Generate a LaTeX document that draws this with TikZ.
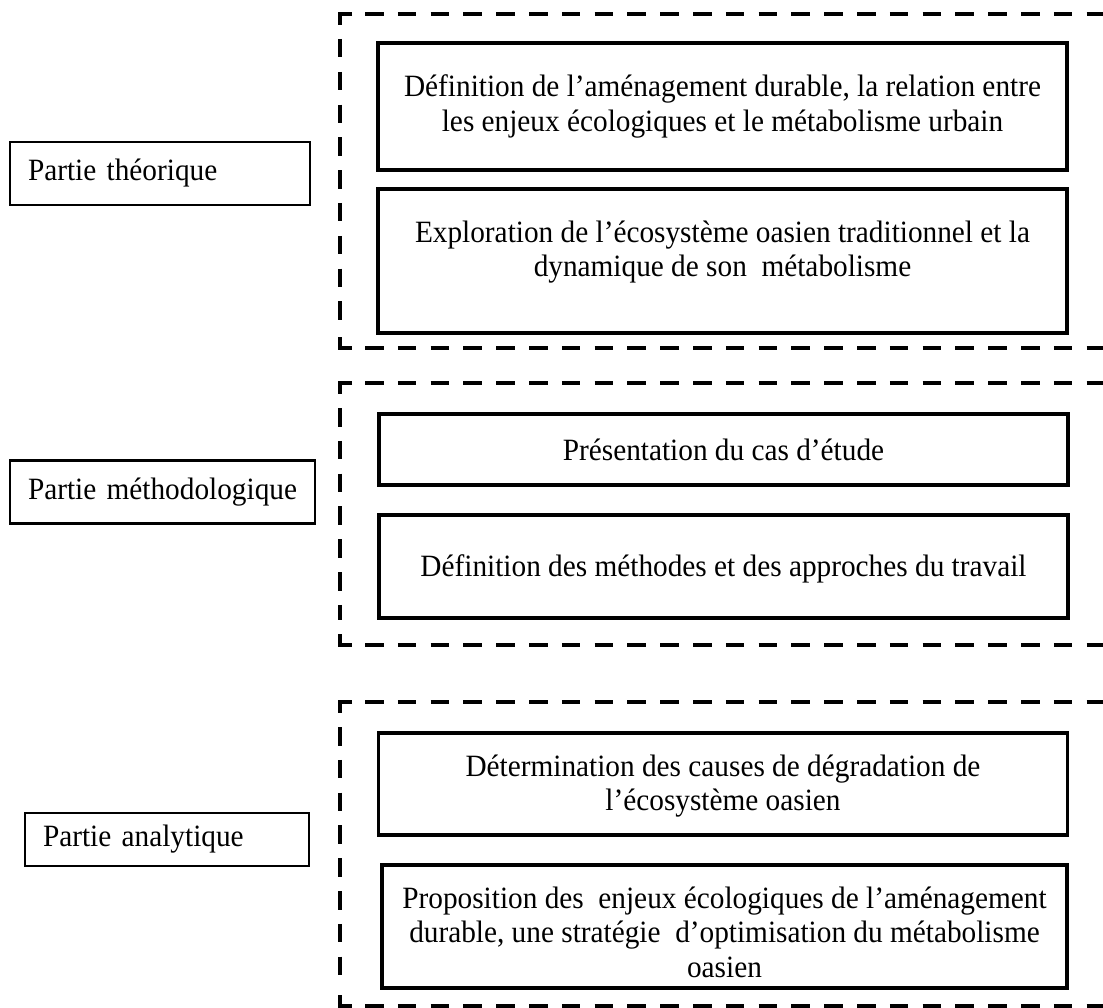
\documentclass[tikz,border=0pt]{standalone}
\usepackage{fontspec}
\setmainfont{Liberation Serif}
% slightly condensed face for the box texts
\newfontfamily\boxfont{Liberation Serif}[FakeStretch=0.945]
\begin{document}
\begin{tikzpicture}[x=1pt,y=-1pt,
  every node/.style={font=\boxfont\fontsize{31}{34.5}\selectfont, inner sep=0pt},
  inbox/.style={draw, line width=3.5pt, minimum width=689pt},
  sidebox/.style={draw, line width=2.6pt, inner xsep=18pt, minimum height=63pt, align=left},
  txt/.style={align=center},
  frameline/.style={line width=3.5pt, dash pattern=on 18.5pt off 14.3pt},
  framecorner/.style={line width=3.5pt, line join=miter}]
\useasboundingbox (0,0) rectangle (1103,1008);
\clip (0,0) rectangle (1103,1008);

% dashed frames, open to the right
\foreach \t/\b in {14/348, 383/645, 702/1006} {
  \draw[framecorner] (352,\t) -- (340,\t) -- (340,{\t+11});
  \draw[frameline] (365,\t) -- (1120,\t);
  \draw[frameline] (340,{\t+25}) -- (340,{\b-25});
  \draw[framecorner] (340,{\b-11}) -- (340,\b) -- (352,\b);
  \draw[frameline] (365,\b) -- (1120,\b);
}

% part labels
\node[sidebox, text width=264pt] (pt) at (160,173.5) {\mbox{Partie théorique}};
\node[sidebox, text width=269pt] (pm) at (162.5,492) {\mbox{Partie méthodologique}};
\node[sidebox, text width=248pt, minimum height=53pt] (pa) at (167,839.5) {\mbox{Partie analytique}};

% content boxes
\node[inbox, minimum height=127pt] (b1) at (722.5,106.5) {};
\node[inbox, minimum height=144pt] (b2) at (722.5,261) {};
\node[inbox, minimum height=71pt]  (b3) at (723.5,449.5) {};
\node[inbox, minimum height=103pt] (b4) at (723.5,566.5) {};
\node[inbox, minimum height=102pt] (b5) at (723,784) {};
\node[inbox, minimum height=123pt, minimum width=685pt] (b6) at (724.5,926.5) {};

% box texts
\node[txt] (t1) at (b1.center) {Définition de l’aménagement durable, la relation entre\\les enjeux écologiques et le métabolisme urbain};
\node[txt] (t2) at (722.5,252) {Exploration de l’écosystème oasien traditionnel et la\\dynamique de son\ \ métabolisme};
\node[txt] (t3) at (b3.center) {Présentation du cas d’étude};
\node[txt] (t4) at (723.5,569) {Définition des méthodes et des approches du travail};
\node[txt] (t5) at (723,786) {Détermination des causes de dégradation de\\l’écosystème oasien};
\node[txt] (t6) at (724.5,932) {Proposition des\ \ enjeux écologiques de l’aménagement\\durable, une stratégie\ \ d’optimisation du métabolisme\\oasien};
\end{tikzpicture}
\end{document}
